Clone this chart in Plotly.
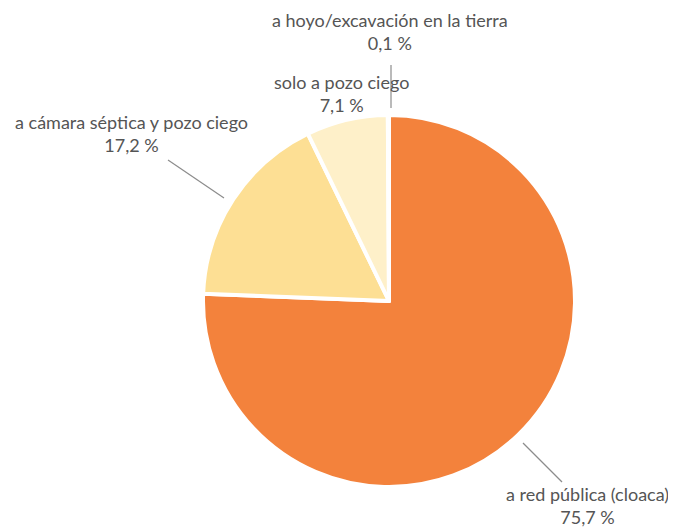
import plotly.graph_objects as go

labels = ["a red pública (cloaca)", "a cámara séptica y pozo ciego", "solo a pozo ciego", "a hoyo/excavación en la tierra"]
values = [75.7, 17.2, 7.1, 0.1]
colors = ["#F3823C", "#FDDF94", "#FEF0C9", "#FEF6E0"]

W, H = 676, 528
OFF = 8  # page body margin shifts the figure by this much

# label centres and leader lines, in reference pixels
label_pos = [(587, 505), (131, 133), (341, 93), (390, 32)]
leaders = [((523, 443), (562, 482)), ((168, 160), (224, 198)), None, ((391, 65), (391, 108))]


def px(x):
    return (x - OFF) / W


def py(y):
    return 1 - (y - OFF) / H


fig = go.Figure(
    go.Pie(
        labels=labels,
        values=values,
        sort=False,
        direction="clockwise",
        rotation=0,
        textinfo="none",
        hoverinfo="label+percent",
        marker=dict(colors=colors, line=dict(color="white", width=4)),
        domain=dict(x=[px(389 - 186), px(389 + 186)], y=[py(301 + 186), py(301 - 186)]),
        showlegend=False,
    )
)

for lab, val, (x, y) in zip(labels, values, label_pos):
    txt = f"{lab}<br>{val:.1f}".replace(".", ",") + " %"
    fig.add_annotation(
        x=px(x), y=py(y), xref="paper", yref="paper",
        xanchor="center", yanchor="middle",
        text=txt, showarrow=False, align="center",
        font=dict(family="Lato, sans-serif", size=18, color="#555555"),
    )

for seg in leaders:
    if seg is None:
        continue
    (x0, y0), (x1, y1) = seg
    fig.add_shape(
        type="line", xref="paper", yref="paper",
        x0=px(x0), y0=py(y0), x1=px(x1), y1=py(y1),
        line=dict(color="#8c8c8c", width=1.2),
    )

fig.update_layout(
    width=W, height=H,
    margin=dict(l=0, r=0, t=0, b=0),
    paper_bgcolor="white",
    plot_bgcolor="white",
)

fig.write_html("out.html")
